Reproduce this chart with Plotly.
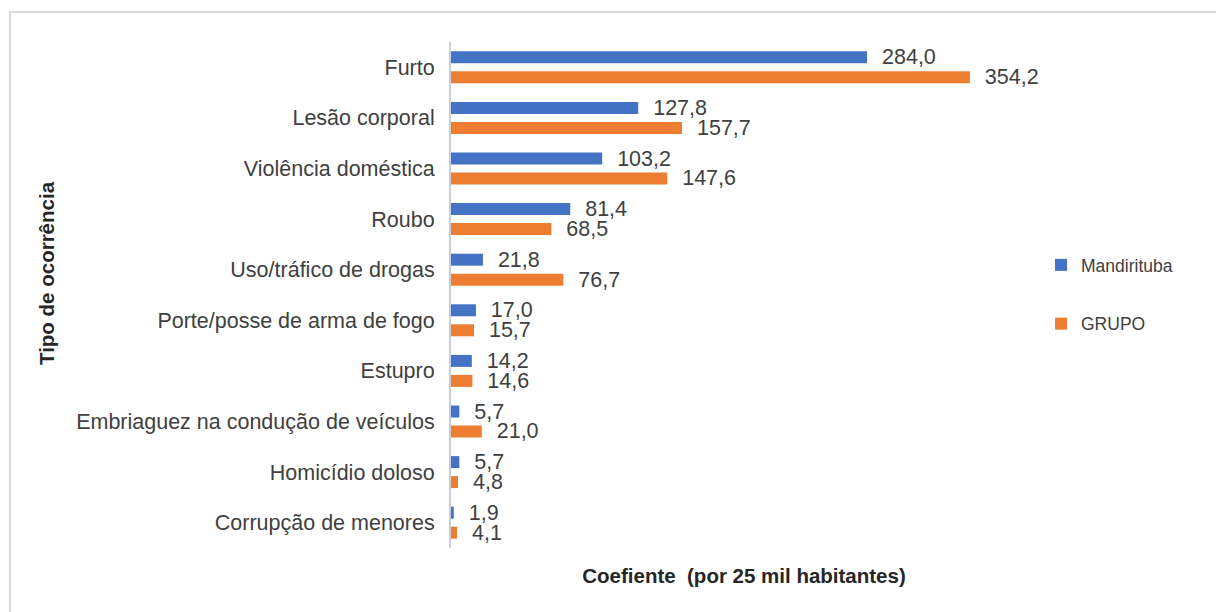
import plotly.graph_objects as go

# Ocorrências por 25 mil habitantes
categorias = [
    "Furto",
    "Lesão corporal",
    "Violência doméstica",
    "Roubo",
    "Uso/tráfico de drogas",
    "Porte/posse de arma de fogo",
    "Estupro",
    "Embriaguez na condução de veículos",
    "Homicídio doloso",
    "Corrupção de menores",
]
mandirituba = [284.0, 127.8, 103.2, 81.4, 21.8, 17.0, 14.2, 5.7, 5.7, 1.9]
grupo = [354.2, 157.7, 147.6, 68.5, 76.7, 15.7, 14.6, 21.0, 4.8, 4.1]

FONT = "Arial, Liberation Sans, sans-serif"
AZUL = "#4472C4"
LARANJA = "#ED7D31"
TEXTO = "#404040"
TITULO = "#262626"

W, H = 1216, 612
ML, MR, MT, MB = 451, 179, 42, 64
PW, PH = W - ML - MR, H - MT - MB


def px_x(p):
    return (p - ML) / PW


def px_y(p):
    return (H - MB - p) / PH


fig = go.Figure()
for nome, valores, cor in [("Mandirituba", mandirituba, AZUL), ("GRUPO", grupo, LARANJA)]:
    fig.add_trace(go.Bar(
        name=nome,
        legendgroup=nome,
        y=categorias,
        x=valores,
        orientation="h",
        marker=dict(color=cor, line=dict(width=0)),
        texttemplate="\u00a0\u00a0%{x:.1f}",
        textposition="outside",
        constraintext="none",
        cliponaxis=False,
        textfont=dict(family=FONT, size=21.5, color=TEXTO),
        hoverinfo="skip",
    ))

fig.update_layout(
    width=W,
    height=H,
    margin=dict(l=ML, r=MR, t=MT, b=MB, autoexpand=False),
    paper_bgcolor="white",
    plot_bgcolor="white",
    separators=",.",
    barmode="group",
    bargap=0.21,
    bargroupgap=0.4,
    font=dict(family=FONT, color=TEXTO),
    showlegend=True,
    legend=dict(
        x=px_x(1041), y=px_y(247), xanchor="left", yanchor="top",
        font=dict(family=FONT, size=17.5, color=TEXTO),
        tracegroupgap=33,
        itemwidth=30,
        bgcolor="rgba(0,0,0,0)",
    ),
    shapes=[dict(
        type="rect", xref="paper", yref="paper",
        x0=px_x(10), x1=px_x(1300), y0=px_y(700), y1=px_y(12),
        line=dict(color="#D9D9D9", width=2), fillcolor="rgba(0,0,0,0)",
        layer="below",
    )],
    annotations=[dict(
        text="<b>Tipo de ocorrência</b>",
        xref="paper", yref="paper",
        x=px_x(46), y=px_y(273),
        xanchor="center", yanchor="middle",
        textangle=-90, showarrow=False,
        font=dict(family=FONT, size=20.5, color=TITULO),
    )],
)

fig.update_xaxes(
    range=[0, 400],
    showticklabels=False,
    ticks="",
    showgrid=False,
    zeroline=False,
    showline=False,
    automargin=False,
    title=dict(
        text="<b>Coefiente  (por 25 mil habitantes)</b>",
        font=dict(family=FONT, size=20.5, color=TITULO),
        standoff=20,
    ),
)

fig.update_yaxes(
    autorange="reversed",
    ticks="",
    showgrid=False,
    zeroline=False,
    showline=True,
    linecolor="#C8CFDA",
    linewidth=2,
    automargin=False,
    ticklabelstandoff=10,
    tickfont=dict(family=FONT, size=21.5, color=TEXTO),
)

fig.write_html("out.html")
